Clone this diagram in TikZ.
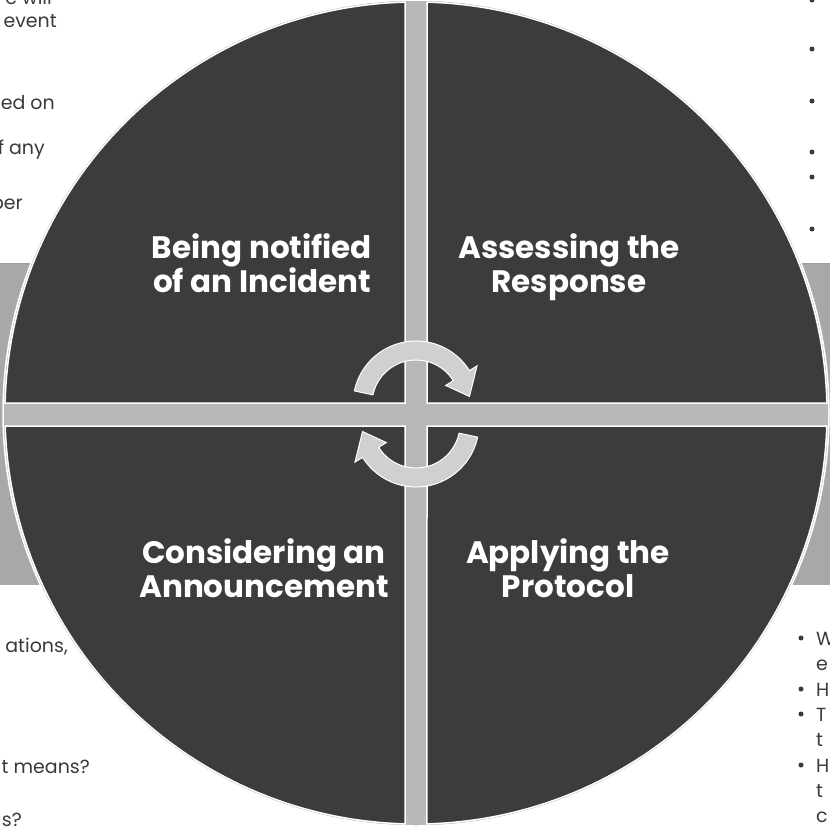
\documentclass[tikz,border=0pt]{standalone}
\usepackage{fontspec}
\setmainfont{Poppins}
\usetikzlibrary{calc}
\definecolor{quad}{HTML}{3C3C3C}
\definecolor{barc}{HTML}{B8B8B8}
\definecolor{bandc}{HTML}{A8A8A8}
\definecolor{arrowc}{HTML}{D0D0D0}
\definecolor{sidec}{HTML}{3A3A3A}
\tikzset{
  quadrant/.style={fill=quad, draw=white, line width=1.5},
  lab/.style={font=\bfseries\fontsize{31}{34}\selectfont, text=white, inner sep=0, anchor=base},
  side/.style={font=\fontsize{19}{22}\selectfont, text=sidec, inner sep=0},
  cyclearrow/.style={fill=arrowc, draw=white, line width=1},
  bulletdot/.style={fill=sidec}
}
\begin{document}
\begin{tikzpicture}[x=1pt,y=-1pt]
\useasboundingbox (0,0) rectangle (830,828);
\clip (0,0) rectangle (830,828);
\fill[white] (0,0) rectangle (830,828);
% side texts (partly hidden)
\node[side, anchor=base east] (l1) at (52,4) {e will};
\node[side, anchor=base east] (l2) at (57,27) {event};
\node[side, anchor=base east] (l3) at (55,109) {ed on};
\node[side, anchor=base east] (l4) at (45,154) {f any};
\node[side, anchor=base east] (l5) at (23,209) {ber};
\node[side, anchor=base east] (l6) at (68,652) {ations,};
\node[side, anchor=base east] (l7) at (90,773) {t means?};
\node[side, anchor=base east] (l8) at (22,826) {s?};
% right bullets
\foreach \yy in {0,49,101,152,177,229} \fill[bulletdot] (812,\yy) circle[radius=2.5];
\foreach \yy in {638,689,714,765} \fill[bulletdot] (801,\yy) circle[radius=2.5];
\node[side, anchor=base west] (r1) at (816,645) {W};
\node[side, anchor=base west] (r2) at (816,670) {e};
\node[side, anchor=base west] (r3) at (816,696) {H};
\node[side, anchor=base west] (r4) at (816,721) {T};
\node[side, anchor=base west] (r5) at (816,746) {t};
\node[side, anchor=base west] (r6) at (816,772) {H};
\node[side, anchor=base west] (r7) at (816,797) {t};
\node[side, anchor=base west] (r8) at (816,822) {c};
% band
\fill[bandc] (0,263) rectangle (830,585);
\draw[gray!75, line width=1] (0,263.5) -- (830,263.5);
% disc (shows as the cross bars)
\fill[barc, draw=white, line width=1.5] (416,413) circle[radius=413];
% quadrants
\filldraw[quadrant] (405,403) -- (405,2.15) arc[start angle=-91.53, end angle=-178.61, radius=411] -- cycle;
\filldraw[quadrant] (427,403) -- (427,2.15) arc[start angle=-88.47, end angle=-1.39, radius=411] -- cycle;
\filldraw[quadrant] (405,426) -- (5.21,426) arc[start angle=178.19, end angle=91.53, radius=411] -- cycle;
\filldraw[quadrant] (427,426) -- (826.79,426) arc[start angle=1.81, end angle=88.47, radius=411] -- cycle;
% labels
\node[lab] (tl1) at (262,258) {Being notified};
\node[lab] (tl2) at (262,292) {of an Incident};
\node[lab] (tr1) at (569,258) {Assessing the};
\node[lab] (tr2) at (569,292) {Response};
\node[lab] (bl1) at (264,563) {Considering an};
\node[lab] (bl2) at (264,597) {Announcement};
\node[lab] (br1) at (568,563) {Applying the};
\node[lab] (br2) at (568,597) {Protocol};
% cycle arrows
\coordinate (c1) at (416,404);
\coordinate (c2) at (416,424);
\filldraw[cyclearrow] ($(c1)+(-168:63)$) arc[start angle=-168, end angle=-32, radius=63]
  -- ($(c1)+(-32:72)$) -- ($(c1)+(-8:54)$) -- ($(c1)+(-32:35)$) -- ($(c1)+(-32:44)$)
  arc[start angle=-32, end angle=-168, radius=44] -- cycle;
\filldraw[cyclearrow] ($(c2)+(12:63)$) arc[start angle=12, end angle=148, radius=63]
  -- ($(c2)+(148:72)$) -- ($(c2)+(172:54)$) -- ($(c2)+(148:35)$) -- ($(c2)+(148:44)$)
  arc[start angle=148, end angle=12, radius=44] -- cycle;
\end{tikzpicture}
\end{document}
